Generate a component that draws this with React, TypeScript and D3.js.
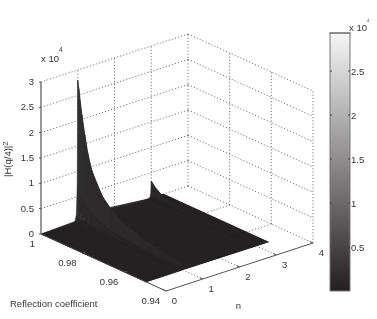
import React from "react";
import * as d3 from "d3";

const rValues = [1, 0.9995, 0.998, 0.9966, 0.9952, 0.9933, 0.9909, 0.988, 0.9837, 0.98, 0.97, 0.96, 0.9495];
const ridgeOne = [28000, 26400, 21500, 17800, 14500, 11500, 9400, 7200, 5400, 4300, 2600, 1800, 1400];
const ridgeThree = [3300, 3100, 2400, 2000, 1600, 1300, 1050, 800, 600, 480, 290, 200, 155];
const nValues = [0, 0.92, 0.96, 0.985, 1, 1.02, 1.06, 2.9, 2.96, 2.985, 3, 3.02, 3.06, 3.33];
const weightOne = [0, 0.01, 0.05, 0.25, 1, 0.25, 0.05, 0, 0, 0, 0, 0, 0, 0];
const weightThree = [0, 0, 0, 0, 0, 0, 0, 0.01, 0.05, 0.25, 1, 0.25, 0.05, 0];
const zTicks = [0, 5000, 10000, 15000, 20000, 25000, 30000];
const zLabels = ["0", "0.5", "1", "1.5", "2", "2.5", "3"];
const nTicks = [0, 1, 2, 3, 4];
const rTicks = [1, 0.98, 0.96, 0.94];
const rLabels = ["1", "0.98", "0.96", "0.94"];
const barTicks = [0.5, 1, 1.5, 2, 2.5];

const nx = d3.scaleLinear([0, 4], [0, 147]);
const ny = d3.scaleLinear([0, 4], [0, -48]);
const rx = d3.scaleLinear([1, 0.94], [0, 125]);
const ry = d3.scaleLinear([1, 0.94], [0, 57]);
const zh = d3.scaleLinear([0, 30000], [0, 152]);
const fillScale = d3.scaleLinear<string>().domain([0, 2000, 30000]).range(["#252122", "#2b292a", "#363636"]);
const barY = d3.scaleLinear([0, 2.5], [291, 71]);

const P = (n: number, r: number, z = 0): [number, number] => [41 + nx(n) + rx(r), 234 + ny(n) + ry(r) - zh(z)];
const seg = (a: [number, number], b: [number, number]) => `M${a[0]},${a[1]}L${b[0]},${b[1]}`;

const gridPath = [
  ...zTicks.flatMap((z) => [seg(P(0, 1, z), P(4, 1, z)), seg(P(4, 1, z), P(4, 0.94, z))]),
  ...nTicks.slice(1).map((n) => seg(P(n, 1, 0), P(n, 1, 30000))),
  ...rTicks.slice(1).map((r) => seg(P(4, r, 0), P(4, r, 30000))),
  ...nTicks.slice(1, 4).map((n) => seg(P(n, 1, 0), P(n, 0.94, 0))),
  ...rTicks.slice(1, 3).map((r) => seg(P(0, r, 0), P(4, r, 0))),
].join("");

const zAt = (i: number, j: number) => weightOne[i] * ridgeOne[j] + weightThree[i] * ridgeThree[j];
const lastN = nValues[nValues.length - 1];
const lastR = rValues[rValues.length - 1];
const floorPath =
  d3.line()([P(0, 1), P(lastN, 1), P(lastN, lastR), P(0, lastR)])! + "Z";

const quads: { d: string; fill: string }[] = [];
for (let i = nValues.length - 2; i >= 0; i--) {
  for (let j = 0; j < rValues.length - 1; j++) {
    const avg = (zAt(i, j) + zAt(i + 1, j) + zAt(i + 1, j + 1) + zAt(i, j + 1)) / 4;
    if (avg === 0) continue;
    const pts = [
      P(nValues[i], rValues[j], zAt(i, j)),
      P(nValues[i + 1], rValues[j], zAt(i + 1, j)),
      P(nValues[i + 1], rValues[j + 1], zAt(i + 1, j + 1)),
      P(nValues[i], rValues[j + 1], zAt(i, j + 1)),
    ];
    quads.push({ d: d3.line()(pts)! + "Z", fill: fillScale(avg) });
  }
}

const font = "'Liberation Sans', Arial, sans-serif";

export default function App() {
  return (
    <svg
      width={377}
      height={319}
      style={{ position: "absolute", left: 0, top: 0, filter: "blur(0.35px)" }}
      fontFamily={font}
      fontSize={9.5}
      fill="#333"
    >
      <defs>
        <linearGradient id="bar" x1="0" y1="0" x2="0" y2="1">
          <stop offset="0" stopColor="#f6f6f6" />
          <stop offset="1" stopColor="#231f20" />
        </linearGradient>
      </defs>
      <rect width={377} height={319} fill="#fff" />
      <path d={gridPath} fill="none" stroke="#666" strokeWidth={0.9} strokeDasharray="1.2 2" />
      <path d={floorPath} fill="#231f20" />
      {quads.map((q, i) => (
        <path key={i} d={q.d} fill={q.fill} stroke={q.fill} strokeWidth={0.5} />
      ))}
      <path d={seg(P(0, 1, 0), P(0, 1, 30000))} stroke="#777" strokeWidth={1.5} />
      <path d={seg(P(0, 1, 0), P(0, 0.94, 0))} stroke="#444" strokeWidth={1} />
      <path d={seg(P(0, 0.94, 0), P(4, 0.94, 0))} stroke="#555" strokeWidth={1} />
      {zTicks.map((z, i) => {
        const [x, y] = P(0, 1, z);
        return (
          <g key={z}>
            <path d={`M${x - 2},${y}H${x}`} stroke="#555" />
            <text x={x - 7} y={y + 3} textAnchor="end">{zLabels[i]}</text>
          </g>
        );
      })}
      {nTicks.map((n) => {
        const [x, y] = P(n, 0.94, 0);
        return (
          <g key={n}>
            <path d={seg([x, y], [x - 3, y - 1.5])} stroke="#555" />
            <text x={x + 8.5} y={y + 13} textAnchor="middle">{n}</text>
          </g>
        );
      })}
      {rTicks.map((r, i) => {
        const [x, y] = P(0, r, 0);
        return (
          <g key={r}>
            {i > 0 && i < 3 && <path d={seg([x, y], [x + 3, y - 1])} stroke="#555" />}
            <text x={x - 6} y={y + 13} textAnchor="end">{rLabels[i]}</text>
          </g>
        );
      })}
      <text x={41} y={62}>x 10</text>
      <text x={59} y={52} fontSize={6.5}>4</text>
      <text transform="translate(11,177) rotate(-90)">
        |H(q/4)|<tspan dy={-3} fontSize={8}>2</tspan>
      </text>
      <text x={10} y={307}>Reflection coefficient</text>
      <text x={238.5} y={309} textAnchor="middle">n</text>

      <rect x={330} y={33} width={20} height={258} fill="url(#bar)" />
      <path d="M330,33V291M350,33V291" stroke="#777" fill="none" />
      <path d="M329.5,33H350.5" stroke="#222" fill="none" />
      <path d="M330,291H350" stroke="#777" fill="none" />
      {barTicks.map((t) => (
        <g key={t}>
          <path d={`M330,${barY(t)}h2M350,${barY(t)}h-2`} stroke="#444" />
          <text x={351} y={barY(t) + 3.5}>{t}</text>
        </g>
      ))}
      <text x={349} y={31}>x 10</text>
      <text x={367} y={22} fontSize={4}>4</text>
    </svg>
  );
}
